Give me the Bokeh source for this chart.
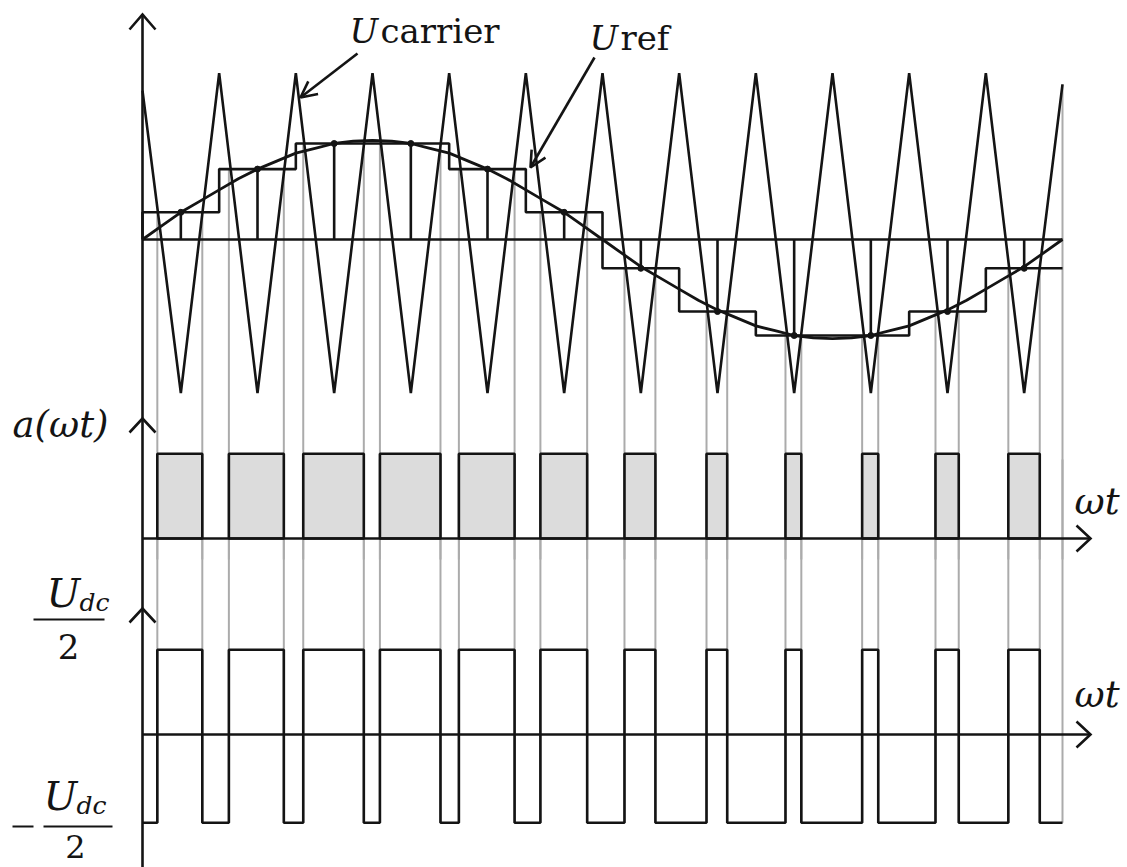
from bokeh.plotting import figure
from bokeh.models import Range1d, Arrow, OpenHead
from bokeh.core.properties import value
from bokeh.embed import file_html
from bokeh.resources import INLINE

# ---------------- data ----------------
# triangular carrier: vertex angles (deg) and values (per unit, top panel)
carrier_angle = [0, 15, 30, 45, 60, 75, 90, 105, 120, 135, 150, 165, 180,
                 195, 210, 225, 240, 255, 270, 285, 300, 315, 330, 345, 360]
carrier_value = [0.93, -0.96, 1.04, -0.96, 1.04, -0.96, 1.04, -0.96, 1.04, -0.96,
                 1.04, -0.96, 1.04, -0.96, 1.04, -0.96, 1.04, -0.96, 1.04, -0.96,
                 1.04, -0.96, 1.04, -0.96, 0.97]
# sinusoidal reference (every 7.5 deg)
ref_angle = [0, 7.5, 15, 22.5, 30, 37.5, 45, 52.5, 60, 67.5, 75, 82.5, 90,
             97.5, 105, 112.5, 120, 127.5, 135, 142.5, 150, 157.5, 165, 172.5, 180,
             187.5, 195, 202.5, 210, 217.5, 225, 232.5, 240, 247.5, 255, 262.5, 270,
             277.5, 285, 292.5, 300, 307.5, 315, 322.5, 330, 337.5, 345, 352.5, 360]
ref_value = [0.0, 0.085, 0.17, 0.24, 0.31, 0.38, 0.44, 0.49, 0.54, 0.57, 0.60, 0.615, 0.62,
             0.615, 0.60, 0.57, 0.54, 0.49, 0.44, 0.38, 0.31, 0.24, 0.17, 0.085, 0.0,
             -0.085, -0.17, -0.24, -0.31, -0.38, -0.44, -0.49, -0.54, -0.57, -0.60, -0.615, -0.62,
             -0.615, -0.60, -0.57, -0.54, -0.49, -0.44, -0.38, -0.31, -0.24, -0.17, -0.085, 0.0]
# regular samples (held from carrier peak to carrier peak)
sample_angle = [15, 45, 75, 105, 135, 165, 195, 225, 255, 285, 315, 345]
sample_value = [0.17, 0.44, 0.60, 0.60, 0.44, 0.17, -0.18, -0.45, -0.60, -0.60, -0.45, -0.18]
step_edges = [0, 30, 60, 90, 120, 150, 180, 210, 240, 270, 300, 330, 360]
# switching instants (deg)
pulse_start = [5.8, 33.8, 62.9, 92.9, 123.8, 155.7, 188.6, 220.7, 251.6, 281.6, 310.3, 338.8]
pulse_end = [23.4, 55.3, 86.6, 116.6, 145.6, 174.0, 200.7, 228.8, 257.8, 287.9, 319.4, 351.1]

# ---------------- figure ----------------
W, H = 1127, 867
PX0, PX1 = 0, W              # page x span of canvas
PY0, PY1 = 0, H              # page y span of canvas
X0_PX, X360_PX = 142, 1062   # page x of 0 deg and 360 deg
deg_per_px = 360.0 / (X360_PX - X0_PX)


def yr(zero_px, unit_px):
    return Range1d(start=(zero_px - PY1) / unit_px, end=(zero_px - PY0) / unit_px)


p = figure(width=W, height=H, output_backend="svg", toolbar_location=None,
           x_range=Range1d((PX0 - X0_PX) * deg_per_px, (PX1 - X0_PX) * deg_per_px),
           y_range=Range1d(PY1, PY0),
           x_axis_location=None, y_axis_location=None, min_border=0, title=None)
p.extra_x_ranges = {"px": Range1d(PX0, PX1)}
p.extra_y_ranges = {"top": yr(239, 160.0), "mid": yr(538, 84.7), "bot": yr(735.8, 86.5)}
p.grid.visible = False
p.outline_line_color = None
p.background_fill_color = "white"
p.border_fill_color = "white"

INK = "#141414"
GRAY = "#ababab"
LW = 2.6

# ---- gray switching lines ----
edges = pulse_start + pulse_end
levels = [sample_value[int(e // 30)] for e in edges]
edges_all = edges + [360]
levels_all = levels + [carrier_value[-1]]
p.segment(x0=edges_all, y0=levels_all, x1=edges_all, y1=[-2.0] * len(edges_all),
          y_range_name="top", line_color=GRAY, line_width=2)
p.segment(x0=edges_all, y0=[-1.0] * len(edges_all), x1=edges_all, y1=[3.2] * len(edges_all),
          y_range_name="bot", line_color=GRAY, line_width=2)

# ---- top panel ----
p.line([0, 360], [0, 0], y_range_name="top", line_color=INK, line_width=LW)
sx, sy = [], []
for i, v in enumerate(sample_value):
    sx += [step_edges[i], step_edges[i + 1]]
    sy += [v, v]
stx, sty = [sx[0]], [0.0]
for i in range(len(sx)):
    stx.append(sx[i]); sty.append(sy[i])
p.line(stx, sty, y_range_name="top", line_color=INK, line_width=LW)
p.segment(x0=sample_angle, y0=[0] * len(sample_angle), x1=sample_angle, y1=sample_value,
          y_range_name="top", line_color=INK, line_width=LW)
p.line(carrier_angle, carrier_value, y_range_name="top", line_color=INK, line_width=LW)
p.line(ref_angle, ref_value, y_range_name="top", line_color=INK, line_width=2.8)
p.scatter(sample_angle, sample_value, y_range_name="top", size=6, color=INK)

# ---- middle panel a(wt) ----
p.quad(left=pulse_start, right=pulse_end, bottom=0, top=1, y_range_name="mid",
       fill_color="#dcdcdc", line_color=INK, line_width=LW)

# ---- bottom panel (bipolar) ----
bx, by = [0], [-1]
for s, e in zip(pulse_start, pulse_end):
    bx += [s, s, e, e]
    by += [-1, 1, 1, -1]
bx.append(360); by.append(-1)
p.line(bx, by, y_range_name="bot", line_color=INK, line_width=LW)

# ---- axes (page pixel coordinates) ----
p.line([142, 142], [14, PY1], x_range_name="px", line_color=INK, line_width=LW)
p.line([142, 1090], [538, 538], x_range_name="px", line_color=INK, line_width=LW)
p.line([142, 1090], [734, 734], x_range_name="px", line_color=INK, line_width=LW)
heads_x = [[129, 142, 155], [129, 142, 155], [129, 142, 155],
           [1076, 1090, 1076], [1076, 1090, 1076]]
heads_y = [[29, 14, 29], [432, 418, 432], [622, 608, 622],
           [525, 538, 551], [721, 734, 747]]
p.multi_line(heads_x, heads_y, x_range_name="px", line_color=INK, line_width=LW,
             line_join="miter")

# ---- annotation arrows ----
p.add_layout(Arrow(x_start=357, y_start=53, x_end=300, y_end=97, x_range_name="px",
                   line_color=INK, line_width=LW,
                   end=OpenHead(size=16, line_color=INK, line_width=LW)))
p.add_layout(Arrow(x_start=594, y_start=57, x_end=530, y_end=167, x_range_name="px",
                   line_color=INK, line_width=LW,
                   end=OpenHead(size=16, line_color=INK, line_width=LW)))

# ---- texts ----
SERIF = value("DejaVu Serif")


def txt(x, y, s, size, style="normal", align="left"):
    # y is the desired baseline; compensate the svg baseline offset
    p.text(x=[x], y=[y - 0.37 * size], text=[s], x_range_name="px", text_font=SERIF,
           text_font_size=f"{size}px", text_font_style=style, text_align=align,
           text_baseline="alphabetic", text_color=INK)


txt(349, 43, "U", 34, "italic")
txt(380, 43, "carrier", 34)
txt(589, 50, "U", 34, "italic")
txt(620, 50, "ref", 34)
txt(12, 438, "a(ωt)", 37, "italic")
txt(1074, 515, "ωt", 37, "italic")
txt(1074, 708, "ωt", 37, "italic")
# +Udc/2
txt(46, 607, "U", 40, "italic")
txt(79, 611, "dc", 25, "italic")
p.line([33, 104], [619, 619], x_range_name="px", line_color=INK, line_width=2)
txt(68, 659, "2", 34, "normal", "center")
# -Udc/2
p.line([12, 33], [826, 826], x_range_name="px", line_color=INK, line_width=2)
txt(43, 810, "U", 40, "italic")
txt(76, 814, "dc", 25, "italic")
p.line([43, 112], [826, 826], x_range_name="px", line_color=INK, line_width=2)
txt(75, 858, "2", 32, "normal", "center")

open("out.html", "w").write(file_html(p, INLINE))
